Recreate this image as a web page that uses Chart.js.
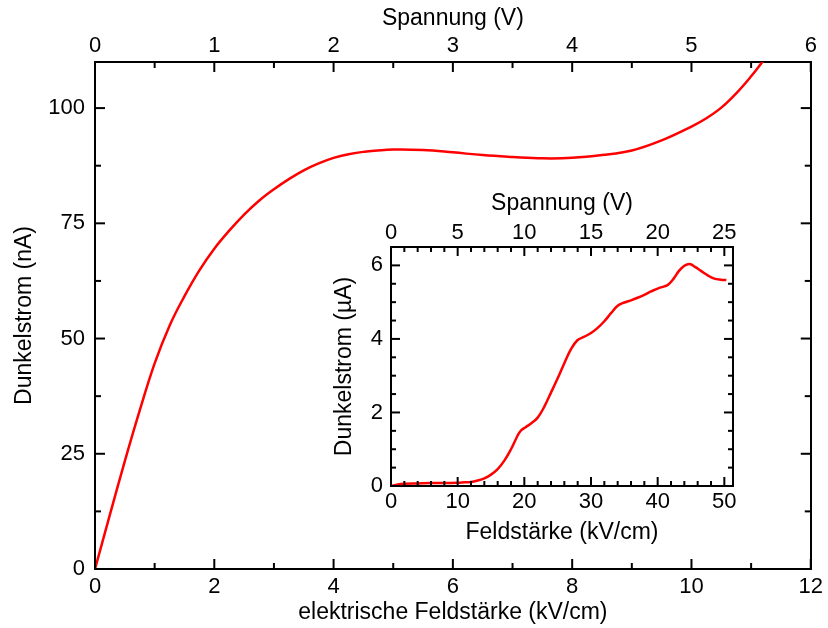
<!DOCTYPE html>
<html lang="de">
<head>
<meta charset="utf-8">
<title>Dunkelstrom</title>
<script src="https://cdn.jsdelivr.net/npm/chart.js@4.4.1/dist/chart.umd.min.js"></script>
<style>
    html, body { margin: 0; padding: 0; background: #fff; }
    #wrap { position: relative; width: 828px; height: 628px; }
    #mainChart { position: absolute; left: 0; top: 0; }
    #insetChart { position: absolute; left: 330px; top: 180px; }
</style>
</head>
<body>
<div id="wrap">
    <canvas id="mainChart" width="828" height="628"></canvas>
    <canvas id="insetChart" width="415" height="370"></canvas>
</div>
<script>
// main plot: field (kV/cm) vs dark current (nA)
const mainField = [0, 0.25, 0.5, 0.75, 1.0, 1.25, 1.5, 1.75, 2.0, 2.25, 2.5, 2.75, 3.0, 3.25, 3.5, 3.75, 4.0, 4.25,
    4.5, 5.0, 5.5, 6.0, 6.5, 7.0, 7.5, 8.0, 8.5, 9.0, 9.5, 10.0, 10.25, 10.5, 10.75, 11.0, 11.2];
const mainCurrent = [0, 11.8, 23.4, 34.4, 44.6, 52.8, 59.2, 64.8, 69.5, 73.4, 76.9, 79.9, 82.4, 84.6, 86.5, 88.0, 89.2, 90.0,
    90.5, 91.0, 90.9, 90.4, 89.8, 89.4, 89.1, 89.2, 89.8, 90.8, 93.0, 96.0, 97.8, 100.1, 103.2, 106.9, 110.2];

// inset: field (kV/cm) vs dark current (µA)
const insetField = [0, 1, 2, 4, 6, 8, 10, 11, 12, 13, 14, 15, 16, 17, 18, 18.8, 19.4, 20.2, 21, 22, 23, 24, 25, 26,
    27, 28, 29, 30, 31, 32, 33, 34, 35, 36, 37, 38, 39, 40, 41, 41.6, 42.4, 43.2, 44, 44.8, 45.6, 46.5, 47.5, 48.5,
    49.5, 50.3];
const insetCurrent = [0, 0.04, 0.06, 0.07, 0.08, 0.08, 0.09, 0.10, 0.11, 0.15, 0.21, 0.31, 0.46, 0.69, 1.00, 1.30,
    1.49, 1.60, 1.70, 1.86, 2.16, 2.54, 2.93, 3.34, 3.72, 3.97, 4.06, 4.16, 4.30, 4.48, 4.70, 4.90, 4.99, 5.05, 5.12,
    5.20, 5.29, 5.37, 5.43, 5.48, 5.64, 5.85, 5.99, 6.04, 5.96, 5.85, 5.73, 5.64, 5.61, 5.60];

// labelled (major) ticks
const mainFieldLabels = [0, 2, 4, 6, 8, 10, 12];
const mainVoltLabels = [0, 1, 2, 3, 4, 5, 6];
const mainCurrentLabels = [0, 25, 50, 75, 100];
const insetFieldLabels = [0, 10, 20, 30, 40, 50];
const insetVoltLabels = [0, 5, 10, 15, 20, 25];
const insetCurrentLabels = [0, 2, 4, 6];

Chart.defaults.font.family = '"Liberation Sans", Arial, sans-serif';
Chart.defaults.color = '#000';

// ticks pointing into the plot, long on labelled values
function insideTicks(majors, longLen, shortLen) {
    return {
        id: 'insideTicks',
        afterDatasetsDraw(chart) {
            const { ctx, chartArea: a } = chart;
            ctx.save();
            ctx.strokeStyle = '#000';
            ctx.lineWidth = 2;
            Object.values(chart.scales).forEach(scale => {
                const list = majors[scale.id] || [];
                scale.ticks.forEach(t => {
                    const p = scale.getPixelForValue(t.value);
                    const len = list.includes(t.value) ? longLen : shortLen;
                    ctx.beginPath();
                    if (scale.position === 'bottom') { ctx.moveTo(p, a.bottom); ctx.lineTo(p, a.bottom - len); }
                    if (scale.position === 'top') { ctx.moveTo(p, a.top); ctx.lineTo(p, a.top + len); }
                    if (scale.position === 'left') { ctx.moveTo(a.left, p); ctx.lineTo(a.left + len, p); }
                    if (scale.position === 'right') { ctx.moveTo(a.right, p); ctx.lineTo(a.right - len, p); }
                    ctx.stroke();
                });
            });
            ctx.restore();
        }
    };
}

function axis(position, min, max, step, labels, o) {
    const horizontal = position === 'top' || position === 'bottom';
    return {
        type: 'linear', position, min, max, display: true,
        grid: { display: false, drawTicks: false },
        border: { display: true, color: '#000', width: 2 },
        ticks: {
            stepSize: step, autoSkip: false, maxRotation: 0, includeBounds: false,
            display: o.showLabels !== false, padding: o.pad || 0,
            font: { size: 22 },
            callback: v => labels.includes(v) ? String(v) : ''
        },
        title: o.title
            ? { display: true, text: o.title, font: { size: 23 }, padding: o.titlePad }
            : { display: false },
        afterFit: s => { if (horizontal) s.height = o.size; else s.width = o.size; }
    };
}

function curve(xs, ys) {
    return {
        data: xs.map((x, i) => ({ x, y: ys[i] })),
        borderColor: '#ff0000', borderWidth: 2.5, pointRadius: 0,
        tension: 0.4, fill: false
    };
}

const baseOptions = {
    responsive: false, animation: false, devicePixelRatio: 1,
    layout: { padding: 0 },
    plugins: { legend: { display: false }, tooltip: { enabled: false } }
};

window.mainChart = new Chart(document.getElementById('mainChart'), {
    type: 'line',
    data: { datasets: [curve(mainField, mainCurrent)] },
    options: {
        ...baseOptions,
        scales: {
            x: axis('bottom', 0, 12, 1, mainFieldLabels,
                { size: 59, pad: 5, title: 'elektrische Feldstärke (kV/cm)', titlePad: { top: 0, bottom: 2 } }),
            x2: axis('top', 0, 6, 0.5, mainVoltLabels,
                { size: 62, pad: 3, title: 'Spannung (V)', titlePad: { top: 5, bottom: 0 } }),
            y: axis('left', 0, 110, 12.5, mainCurrentLabels,
                { size: 95, pad: 10, title: 'Dunkelstrom (nA)', titlePad: { top: 11, bottom: 0 } }),
            y2: axis('right', 0, 110, 12.5, mainCurrentLabels, { size: 15, showLabels: false })
        }
    },
    plugins: [insideTicks({ x: mainFieldLabels, x2: mainVoltLabels, y: mainCurrentLabels, y2: mainCurrentLabels }, 10, 6)]
});

window.insetChart = new Chart(document.getElementById('insetChart'), {
    type: 'line',
    data: { datasets: [curve(insetField, insetCurrent)] },
    options: {
        ...baseOptions,
        scales: {
            x: axis('bottom', 0, 51.3, 2, insetFieldLabels,
                { size: 64, pad: 3, title: 'Feldstärke (kV/cm)', titlePad: { top: 0, bottom: 4 } }),
            x2: axis('top', 0, 25.65, 1, insetVoltLabels,
                { size: 67, pad: 1, title: 'Spannung (V)', titlePad: { top: 10, bottom: 0 } }),
            y: axis('left', 0, 6.5, 0.5, insetCurrentLabels,
                { size: 61, pad: 8, title: 'Dunkelstrom (µA)', titlePad: { top: 1, bottom: 0 } }),
            y2: axis('right', 0, 6.5, 0.5, insetCurrentLabels, { size: 12, showLabels: false })
        }
    },
    plugins: [insideTicks({ x: insetFieldLabels, x2: insetVoltLabels, y: insetCurrentLabels, y2: insetCurrentLabels }, 9, 5)]
});
</script>
</body>
</html>
